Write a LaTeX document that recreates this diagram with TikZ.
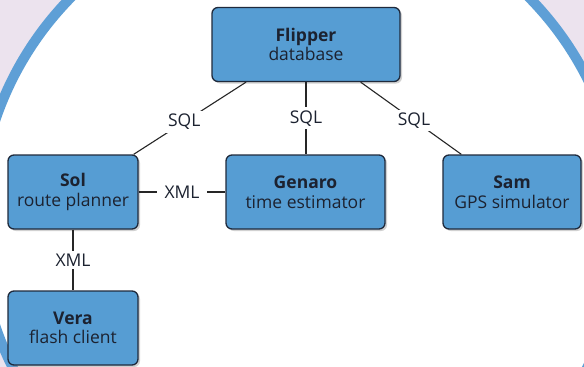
\documentclass[tikz,border=0pt]{standalone}
\usepackage{fontspec}
\setmainfont{Open Sans}
\usetikzlibrary{shadows}

\definecolor{boxblue}{HTML}{569DD3}
\definecolor{boxline}{HTML}{1F2A3C}
\definecolor{ringblue}{HTML}{5E9FD6}
\definecolor{paper}{HTML}{ECE3EE}
\definecolor{inktext}{HTML}{1C2230}

\begin{document}
\begin{tikzpicture}[x=1pt,y=-1pt,
  box/.style={draw=boxline, line width=1.3pt, fill=boxblue, rounded corners=6pt,
    minimum height=74pt, inner sep=0pt, align=center, text=inktext,
    font=\fontsize{17.5}{19.5}\selectfont,
    drop shadow={shadow xshift=2pt, shadow yshift=-2pt, fill=black!45, opacity=0.4}},
  lbl/.style={fill=white, inner sep=3pt, text=inktext, font=\fontsize{17.5}{19.5}\selectfont},
  link/.style={draw=black!85, line width=1.1pt}]

% Paper and the big ring behind the boxes
\useasboundingbox (0,0) rectangle (584,367);
\fill[paper] (0,0) rectangle (584,367);
\begin{scope}
  \clip (0,0) rectangle (584,367);
  \fill[white] (300,223) circle(321.5pt);
  \draw[ringblue, line width=10pt] (300,223) circle(321.5pt);
\end{scope}

% The five programs
\node[box, minimum width=188pt] (flipper) at (306,44.5) {\textbf{Flipper}\\database};
\node[box, minimum width=130pt] (sol) at (73,192) {\textbf{Sol}\\route planner};
\node[box, minimum width=159pt] (genaro) at (305.5,192) {\textbf{Genaro}\\time estimator};
\node[box, minimum width=138pt] (sam) at (512,192) {\textbf{Sam}\\GPS simulator};
\node[box, minimum width=130pt] (vera) at (73,328) {\textbf{Vera}\\flash client};

% SQL links to the database
\draw[link] ([xshift=34.7pt]flipper.south west) -- node[lbl, pos=0.55] {SQL} ([xshift=-5pt]sol.north east);
\draw[link] (flipper.south) -- node[lbl] {SQL} (flipper.south |- genaro.north);
\draw[link] ([xshift=-40pt]flipper.south east) -- node[lbl, pos=0.53] {SQL} ([xshift=19pt]sam.north west);

% XML links from the route planner
\draw[link] (sol.east) -- node[lbl, inner xsep=8pt] {XML} (genaro.west);
\draw[link] (sol.south) -- node[lbl] {XML} (vera.north);

\end{tikzpicture}
\end{document}
